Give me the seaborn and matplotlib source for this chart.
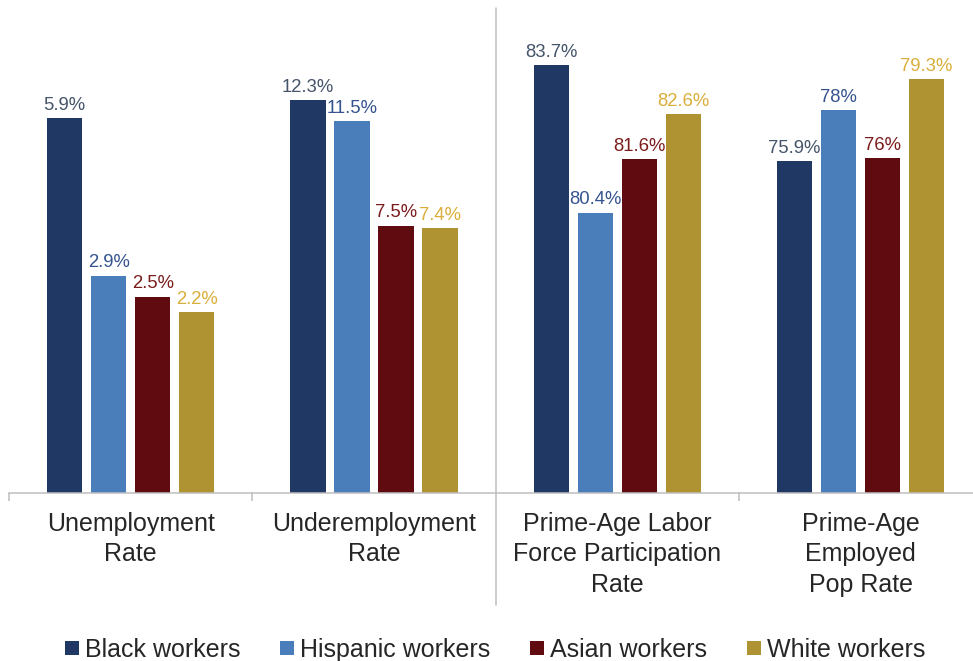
import matplotlib
matplotlib.use("Agg")
import matplotlib.pyplot as plt
import seaborn as sns
import pandas as pd
from matplotlib.patches import Patch
from matplotlib.lines import Line2D

# ---------------- data ----------------
metrics = ["Unemployment\nRate",
           "Underemployment\nRate",
           "Prime-Age Labor\nForce Participation\nRate",
           "Prime-Age\nEmployed\nPop Rate"]
races = ["Black workers", "Hispanic workers", "Asian workers", "White workers"]
black = [5.9, 12.3, 83.7, 75.9]
hispanic = [2.9, 11.5, 80.4, 78.0]
asian = [2.5, 7.5, 81.6, 76.0]
white = [2.2, 7.4, 82.6, 79.3]

# ---------------- style ----------------
bar_colors = ["#203864", "#4A7EBB", "#5F0B0F", "#AF9231"]
label_colors = ["#44546A", "#34538F", "#7B1C1C", "#D9AE3A"]
# each panel has its own (hidden) value scale
ylims = [(-1.25, 7.77), (-2.71, 15.34), (74.13, 84.70), (62.06, 81.76)]
text_color = "#262626"
grid_gray = "#BFBFBF"

sns.set_theme(style="white")
plt.rcParams["font.family"] = ["Liberation Sans", "DejaVu Sans"]

rows = []
for series, name in zip([black, hispanic, asian, white], races):
    for m, v in zip(metrics, series):
        rows.append({"metric": m, "race": name, "value": v})
df = pd.DataFrame(rows)

W, H = 973, 661
fig = plt.figure(figsize=(W / 100, H / 100), dpi=100)

x0_px = 9.0
group_px = 243.3
base_px = 493.3
top_px = 20.0

for i, m in enumerate(metrics):
    left = (x0_px + i * group_px) / W
    ax = fig.add_axes([left, (H - base_px) / H, group_px / W, (base_px - top_px) / H])
    sub = df[df["metric"] == m]
    sns.barplot(data=sub, x="metric", y="value", hue="race", hue_order=races,
                palette=bar_colors, saturation=1, width=0.723, gap=0.2,
                legend=False, ax=ax, edgecolor="none")
    lo, hi = ylims[i]
    ax.set_ylim(lo, hi)
    ax.set_xlim(-0.5, 0.5)
    # bars rise from the panel baseline
    for p, race in zip(ax.patches, races):
        v = float(sub.loc[sub["race"] == race, "value"].iloc[0])
        p.set_y(lo)
        p.set_height(v - lo)
        j = races.index(race)
        ax.annotate(f"{v:g}%", (p.get_x() + p.get_width() / 2, v),
                    xytext=(0, 3), textcoords="offset points",
                    ha="center", va="bottom", fontsize=13.3,
                    color=label_colors[j])
    for s in ["left", "right", "top"]:
        ax.spines[s].set_visible(False)
    ax.spines["bottom"].set_color(grid_gray)
    ax.spines["bottom"].set_linewidth(1.1)
    ax.set_yticks([])
    ax.set_xlabel("")
    ax.set_ylabel("")
    ax.set_xticks([0])
    ax.set_xticklabels([m], fontsize=18, color=text_color, linespacing=1.33)
    ax.tick_params(axis="x", which="major", length=0, pad=13.5, bottom=True)
    if i != 2:
        ax.set_xticks([-0.5], minor=True)
        ax.tick_params(axis="x", which="minor", length=5.5, width=1.1,
                       color=grid_gray, direction="out", bottom=True)
    ax.patch.set_alpha(0)

# long separator between the two pairs of panels
sep_x = (x0_px + 2 * group_px) / W
fig.add_artist(Line2D([sep_x, sep_x], [(H - 8) / H, (H - 605) / H],
                      color=grid_gray, lw=1.1, transform=fig.transFigure))

handles = [Patch(facecolor=c, edgecolor="none") for c in bar_colors]
fig.legend(handles, races, loc="center", bbox_to_anchor=(495 / W, 1 - 650 / H),
           ncol=4, frameon=False, fontsize=18, handlelength=0.56,
           handleheight=0.5, handletextpad=0.25, columnspacing=1.58,
           labelcolor=text_color)

fig.savefig("out.png", dpi=100)
